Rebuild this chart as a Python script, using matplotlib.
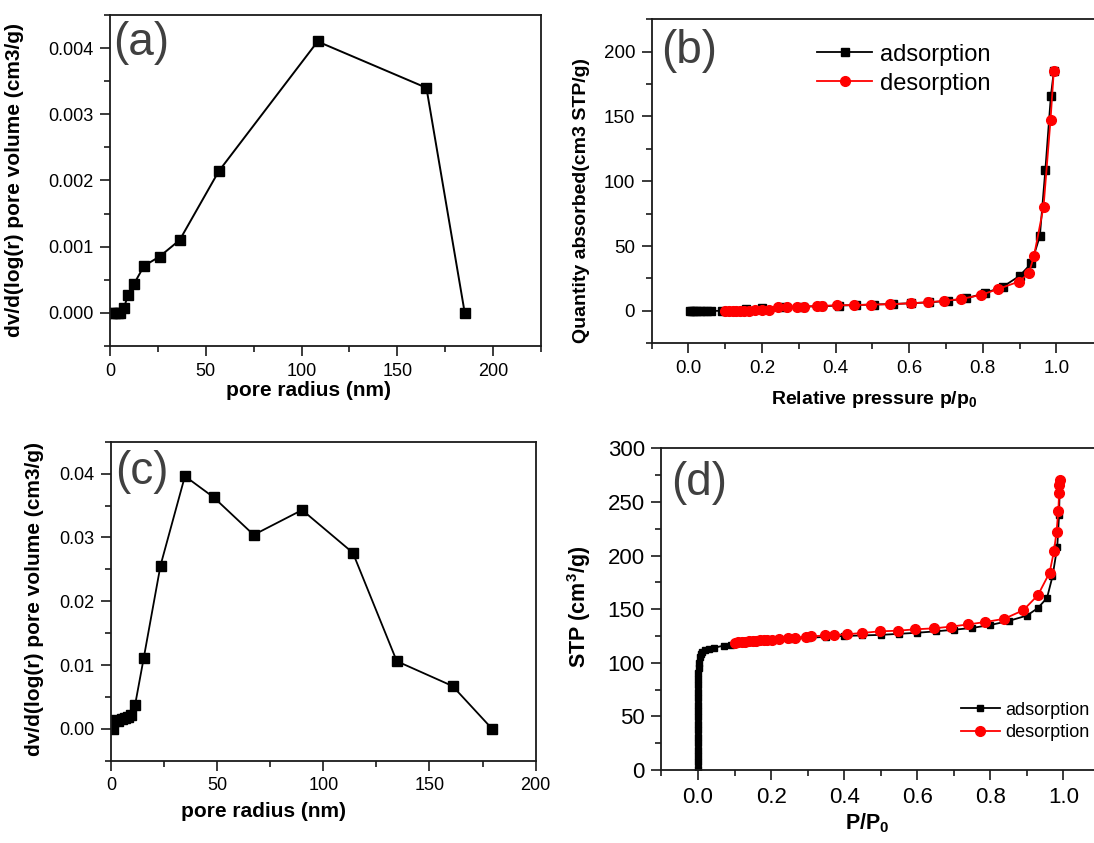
import matplotlib
matplotlib.use('Agg')
import matplotlib.pyplot as plt
from matplotlib.ticker import MultipleLocator, FixedLocator

plt.rcParams['font.family'] = ['Liberation Sans', 'DejaVu Sans']
plt.rcParams['mathtext.default'] = 'regular'

# (a) pore size distribution, sample 1
a_radius = [1.0, 2.5, 4.0, 5.5, 7.3, 9.5, 12.4, 17.8, 25.9, 36.4, 56.8, 108.4, 165.2, 185.2]
a_volume = [0, 0, 0, 0, 0.00008, 0.00027, 0.00043, 0.00071, 0.00085, 0.0011,
            0.00214, 0.0041, 0.0034, 0]

# (b) isotherm, sample 1
b_ads_p = [0.005, 0.01, 0.015, 0.02, 0.03, 0.04, 0.05, 0.06, 0.09, 0.155, 0.2, 0.26,
           0.31, 0.36, 0.41, 0.455, 0.505, 0.555, 0.605, 0.655, 0.705, 0.755, 0.805,
           0.855, 0.9, 0.932, 0.955, 0.97, 0.985, 0.993]
b_ads_q = [0, 0, 0, 0, 0, 0, 0, 0, 0, 1.3, 2.1, 3.0, 3.3, 3.6, 4.1, 4.5, 4.9, 5.3,
           5.9, 6.6, 7.7, 9.7, 13.6, 18.7, 27.0, 36.7, 57.7, 109, 166, 185]
b_des_p = [0.993, 0.984, 0.965, 0.939, 0.925, 0.898, 0.842, 0.795, 0.742, 0.695,
           0.652, 0.606, 0.549, 0.496, 0.449, 0.405, 0.362, 0.348, 0.315, 0.296,
           0.268, 0.244, 0.22, 0.2, 0.18, 0.165, 0.15, 0.14, 0.13, 0.12, 0.11, 0.1]
b_des_q = [185.4, 147.4, 80.2, 42.3, 29.0, 22.6, 16.9, 12.3, 9.2, 7.7, 6.7, 5.9,
           5.1, 4.9, 4.4, 4.4, 3.8, 3.8, 3.3, 3.3, 3.3, 3.3, 0.3, 0.5, 0.3, 0.2,
           0.1, 0, 0, 0, 0, 0]

# (c) pore size distribution, sample 2
c_radius = [0.8, 1.5, 2.5, 3.5, 5.0, 6.5, 8.0, 9.2, 11.3, 15.4, 23.3, 34.8, 48.3,
            67.2, 90.0, 113.9, 134.6, 160.9, 179.5]
c_volume = [0, 0.0012, 0.0014, 0.0013, 0.0015, 0.0017, 0.0019, 0.0022, 0.0037,
            0.0111, 0.0256, 0.0396, 0.0363, 0.0304, 0.0343, 0.0276, 0.0106,
            0.0067, 0.0]

# (d) isotherm, sample 2
d_ads_p = [0.0, 0.0, 0.0, 0.0, 0.0, 0.0, 0.0, 0.0, 0.0, 0.0, 0.0, 0.0, 0.0, 0.0,
           0.0, 0.001, 0.002, 0.003, 0.005, 0.008, 0.012, 0.02, 0.03, 0.045, 0.07,
           0.09, 0.15, 0.2, 0.25, 0.3, 0.35, 0.4, 0.45, 0.5, 0.55, 0.6, 0.65, 0.7,
           0.75, 0.8, 0.85, 0.9, 0.93, 0.955, 0.97, 0.983, 0.988, 0.99]
d_ads_q = [1, 7, 13, 19, 25, 31, 37, 43, 49, 55, 61, 67, 73, 79, 85, 90, 95, 100,
           105, 108, 110, 112, 113, 114, 116, 117, 119.5, 120.8, 122, 123.2, 124.2,
           125, 125.5, 126, 127, 128, 129.3, 130.8, 132.5, 135.2, 139, 144, 151,
           160.5, 180.5, 208, 238, 268]
d_des_p = [0.99, 0.989, 0.988, 0.986, 0.981, 0.974, 0.962, 0.93, 0.89, 0.838,
           0.786, 0.74, 0.692, 0.645, 0.595, 0.546, 0.497, 0.449, 0.408, 0.371,
           0.348, 0.31, 0.295, 0.265, 0.246, 0.222, 0.203, 0.19, 0.18, 0.17, 0.16,
           0.15, 0.14, 0.13, 0.12, 0.11, 0.1]
d_des_q = [270, 266, 258, 242, 222, 204, 184, 163, 149, 141, 138, 135.8, 133.7,
           132.1, 131.2, 129.9, 129.3, 127.8, 126.6, 125.8, 125.6, 124.5, 124.3,
           123.4, 122.8, 122, 121.6, 121.3, 121, 120.8, 120.5, 120.2, 120, 119.6,
           119.3, 119, 118.7]

fig = plt.figure(figsize=(10.94, 8.43), dpi=100)

ax_a = fig.add_axes([0.1005, 0.5896, 0.394, 0.3926])
ax_b = fig.add_axes([0.5957, 0.5928, 0.4372, 0.3843])
ax_c = fig.add_axes([0.1015, 0.0976, 0.3881, 0.3784])
ax_d = fig.add_axes([0.6046, 0.0866, 0.4343, 0.3816])


def style_axes(ax, tick_size):
    for sp in ax.spines.values():
        sp.set_linewidth(1.3)
        sp.set_color('#1a1a1a')
    ax.tick_params(which='both', direction='out', top=False, right=False,
                   width=1.2, color='#1a1a1a', labelsize=tick_size)
    ax.tick_params(which='major', length=7, pad=5)
    ax.tick_params(which='minor', length=4)


def panel_label(ax, text, x, y):
    ax.text(x, y, text, transform=ax.transAxes, fontsize=33, color='#404040',
            ha='left', va='top')


# (a)
ax_a.plot(a_radius, a_volume, '-s', color='black', lw=1.4, ms=7)
ax_a.set_xlim(0, 225)
ax_a.set_ylim(-0.0005, 0.0045)
ax_a.xaxis.set_major_locator(MultipleLocator(50))
ax_a.xaxis.set_minor_locator(MultipleLocator(25))
ax_a.yaxis.set_major_locator(MultipleLocator(0.001))
ax_a.yaxis.set_minor_locator(MultipleLocator(0.0005))
ax_a.yaxis.set_major_formatter(plt.FuncFormatter(lambda v, p: f'{v:.3f}'))
style_axes(ax_a, 13)
ax_a.set_xlabel('pore radius (nm)', fontsize=15, fontweight='bold')
ax_a.set_ylabel('dv/d(log(r) pore volume (cm3/g)', fontsize=15, fontweight='bold')
ax_a.xaxis.set_label_coords(0.461, -0.105)
ax_a.yaxis.set_label_coords(-0.2, 0.5)
panel_label(ax_a, '(a)', 0.007, 0.982)

# (b)
ax_b.plot(b_ads_p, b_ads_q, '-s', color='black', lw=1.3, ms=5.5, label='adsorption')
ax_b.plot(b_des_p, b_des_q, '-o', color='#ff0000', lw=1.3, ms=7, label='desorption')
ax_b.set_xlim(-0.1, 1.2)
ax_b.set_ylim(-25, 225)
ax_b.xaxis.set_major_locator(FixedLocator([0.0, 0.2, 0.4, 0.6, 0.8, 1.0]))
ax_b.xaxis.set_minor_locator(FixedLocator([-0.1, 0.1, 0.3, 0.5, 0.7, 0.9]))
ax_b.xaxis.set_major_formatter(plt.FuncFormatter(lambda v, p: f'{v:.1f}'))
ax_b.yaxis.set_major_locator(MultipleLocator(50))
ax_b.yaxis.set_minor_locator(MultipleLocator(25))
style_axes(ax_b, 13.5)
ax_b.set_xlabel('Relative pressure p/p$_0$', fontsize=14, fontweight='bold')
ax_b.set_ylabel('Quantity absorbed(cm3 STP/g)', fontsize=14, fontweight='bold')
ax_b.xaxis.set_label_coords(0.465, -0.14)
ax_b.yaxis.set_label_coords(-0.128, 0.442)
panel_label(ax_b, '(b)', 0.02, 0.97)
ax_b.legend(loc='upper left', bbox_to_anchor=(0.3456, 0.925), frameon=False,
            fontsize=17, handlelength=2.35, handletextpad=0.3, labelspacing=0.3,
            borderpad=0, borderaxespad=0)

# (c)
ax_c.plot(c_radius, c_volume, '-s', color='black', lw=1.3, ms=6.5)
ax_c.set_xlim(0, 200)
ax_c.set_ylim(-0.005, 0.045)
ax_c.xaxis.set_major_locator(MultipleLocator(50))
ax_c.xaxis.set_minor_locator(MultipleLocator(25))
ax_c.yaxis.set_major_locator(MultipleLocator(0.01))
ax_c.yaxis.set_minor_locator(MultipleLocator(0.005))
ax_c.yaxis.set_major_formatter(plt.FuncFormatter(lambda v, p: f'{v:.2f}'))
style_axes(ax_c, 13)
ax_c.set_xlabel('pore radius (nm)', fontsize=15, fontweight='bold')
ax_c.set_ylabel('dv/d(log(r) pore volume (cm3/g)', fontsize=15, fontweight='bold')
ax_c.xaxis.set_label_coords(0.359, -0.13)
ax_c.yaxis.set_label_coords(-0.159, 0.506)
panel_label(ax_c, '(c)', 0.01, 0.975)

# (d)
ax_d.plot(d_ads_p, d_ads_q, '-s', color='black', lw=1.3, ms=5, label='adsorption')
ax_d.plot(d_des_p, d_des_q, '-o', color='#ff0000', lw=1.3, ms=7, label='desorption')
ax_d.set_xlim(-0.1, 1.2)
ax_d.set_ylim(0, 300)
ax_d.xaxis.set_major_locator(FixedLocator([0.0, 0.2, 0.4, 0.6, 0.8, 1.0]))
ax_d.xaxis.set_minor_locator(FixedLocator([-0.1, 0.1, 0.3, 0.5, 0.7, 0.9]))
ax_d.xaxis.set_major_formatter(plt.FuncFormatter(lambda v, p: f'{v:.1f}'))
ax_d.yaxis.set_major_locator(MultipleLocator(50))
ax_d.yaxis.set_minor_locator(MultipleLocator(25))
style_axes(ax_d, 16)
ax_d.set_xlabel('P/P$_0$', fontsize=15.5, fontweight='bold')
ax_d.set_ylabel('STP (cm$^3$/g)', fontsize=15.5, fontweight='bold')
ax_d.xaxis.set_label_coords(0.433, -0.13)
ax_d.yaxis.set_label_coords(-0.145, 0.508)
panel_label(ax_d, '(d)', 0.02, 0.96)
ax_d.legend(loc='upper left', bbox_to_anchor=(0.6296, 0.212), frameon=False,
            fontsize=13, handlelength=2.2, handletextpad=0.3, labelspacing=0.3,
            borderpad=0, borderaxespad=0)

fig.savefig('out.png', dpi=100)
